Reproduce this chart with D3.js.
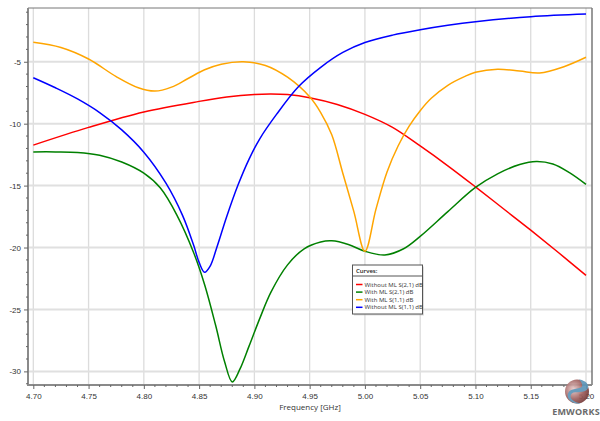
<!DOCTYPE html>
<html>
<head>
<meta charset="utf-8">
<script src="https://cdn.jsdelivr.net/npm/d3@7/dist/d3.min.js"></script>
<style>
  html, body { margin: 0; padding: 0; background: #fff; }
  svg { display: block; font-family: "Open Sans", "Noto Sans", sans-serif; }
</style>
</head>
<body>
<svg id="chart" width="600" height="421"></svg>
<script>
"use strict";

// frequency in GHz, magnitude in dB
const redFreq = [4.70, 4.75, 4.80, 4.85, 4.875, 4.90, 4.915, 4.93, 4.95, 4.975, 5.00, 5.025, 5.05, 5.075, 5.10, 5.125, 5.15, 5.175, 5.20];
const redDb = [-11.73, -10.3, -9.05, -8.2, -7.85, -7.64, -7.6, -7.65, -7.9, -8.45, -9.25, -10.3, -11.8, -13.4, -15.1, -16.85, -18.6, -20.4, -22.25];

const greenFreq = [4.70, 4.72, 4.74, 4.76, 4.78, 4.80, 4.815, 4.83, 4.845, 4.855, 4.865, 4.873, 4.880, 4.887, 4.895, 4.905, 4.915, 4.93, 4.945, 4.96, 4.97, 4.985, 5.00, 5.018, 5.035, 5.05, 5.075, 5.10, 5.12, 5.14, 5.155, 5.17, 5.185, 5.20];
const greenDb = [-12.28, -12.28, -12.32, -12.55, -13.1, -14.0, -15.2, -17.4, -20.4, -23.0, -26.3, -29.2, -30.85, -29.8, -28.0, -25.7, -23.6, -21.4, -20.1, -19.55, -19.46, -19.75, -20.3, -20.6, -20.1, -19.1, -17.1, -15.15, -14.05, -13.3, -13.05, -13.25, -13.95, -14.9];

const orangeFreq = [4.70, 4.725, 4.75, 4.775, 4.795, 4.81, 4.825, 4.84, 4.855, 4.87, 4.89, 4.91, 4.93, 4.95, 4.96, 4.97, 4.98, 4.99, 5.00, 5.01, 5.02, 5.03, 5.04, 5.05, 5.06, 5.075, 5.09, 5.10, 5.12, 5.14, 5.158, 5.18, 5.20];
const orangeDb = [-3.43, -3.85, -4.78, -6.2, -7.1, -7.37, -7.05, -6.35, -5.65, -5.2, -5.0, -5.3, -6.25, -7.83, -9.1, -10.9, -14.0, -17.1, -20.3, -16.9, -13.9, -11.8, -10.2, -8.95, -7.95, -6.9, -6.2, -5.85, -5.6, -5.75, -5.91, -5.4, -4.64];

const blueFreq = [4.70, 4.72, 4.74, 4.76, 4.78, 4.80, 4.82, 4.835, 4.845, 4.85, 4.855, 4.86, 4.866, 4.875, 4.885, 4.895, 4.905, 4.92, 4.94, 4.96, 4.98, 5.00, 5.025, 5.05, 5.075, 5.10, 5.15, 5.20];
const blueDb = [-6.29, -7.1, -8.0, -9.1, -10.5, -12.3, -14.8, -17.4, -19.8, -21.2, -22.0, -21.5, -20.0, -17.5, -15.0, -12.9, -11.2, -9.25, -7.0, -5.45, -4.25, -3.45, -2.85, -2.42, -2.06, -1.77, -1.36, -1.15];

const seriesNames = ["Without ML S(2,1) dB", "With ML S(2,1) dB", "With ML S(1,1) dB", "Without ML S(1,1) dB"];
const seriesColors = ["#ff0000", "#008000", "#ffa500", "#0000ff"];

const freqTicks = [4.70, 4.75, 4.80, 4.85, 4.90, 4.95, 5.00, 5.05, 5.10, 5.15, 5.20];
const dbTicks = [-5, -10, -15, -20, -25, -30];

const svg = d3.select("#chart");
const frame = { left: 28, right: 592, top: 8, bottom: 385 };

const x = d3.scaleLinear().domain([4.70, 5.20]).range([33.3, 586]);
const y = d3.scaleLinear().domain([-31.1, -0.66]).range([frame.bottom, frame.top]);

// grid
const grid = svg.append("g");
grid.selectAll("line.vg").data(freqTicks).join("line").attr("class", "vg")
  .attr("x1", d => x(d)).attr("x2", d => x(d)).attr("y1", frame.top).attr("y2", frame.bottom)
  .attr("stroke", "#dcdcdc").attr("stroke-width", 1.3);
grid.selectAll("line.hg").data(dbTicks).join("line").attr("class", "hg")
  .attr("x1", frame.left).attr("x2", frame.right).attr("y1", d => y(d)).attr("y2", d => y(d))
  .attr("stroke", "#e0e0e0").attr("stroke-width", 2);

// frame top / right
svg.append("line").attr("x1", frame.left).attr("x2", frame.right).attr("y1", frame.top).attr("y2", frame.top)
  .attr("stroke", "#777").attr("stroke-width", 1);
svg.append("line").attr("x1", frame.right).attr("x2", frame.right).attr("y1", frame.top).attr("y2", frame.bottom)
  .attr("stroke", "#777").attr("stroke-width", 1.5);

// axes
const fmt = d => d.toFixed(2);
const yAxis = svg.append("g").attr("transform", `translate(${frame.left},0)`)
  .call(d3.axisLeft(y).tickValues(dbTicks).tickSize(4).tickPadding(3).tickFormat(d => String(d)));
yAxis.append("g").selectAll("line").data(y.ticks(30).filter(d => d % 5 !== 0)).join("line")
  .attr("x1", -2).attr("x2", 0).attr("y1", d => y(d)).attr("y2", d => y(d)).attr("stroke", "#666");

const xAxis = svg.append("g").attr("transform", `translate(0,${frame.bottom})`)
  .call(d3.axisBottom(x).tickValues(freqTicks).tickSize(4).tickPadding(4).tickFormat(fmt));
xAxis.append("g").selectAll("line").data(x.ticks(50).filter(d => Math.round(d * 100) % 5 !== 0)).join("line")
  .attr("x1", d => x(d)).attr("x2", d => x(d)).attr("y1", 0).attr("y2", 2).attr("stroke", "#666");

[yAxis, xAxis].forEach(function styleAxis(g) {
  g.select(".domain").attr("stroke", "#8a8a8a").attr("stroke-width", 2);
  g.selectAll(".tick line").attr("stroke", "#666");
  g.selectAll(".tick text").attr("fill", "#333").attr("font-size", 8);
});
yAxis.select(".domain").attr("d", `M0,${frame.top}V${frame.bottom + 1}`);
xAxis.select(".domain").attr("d", `M${frame.left - 1},0H${frame.right}`);

svg.append("text").attr("x", (frame.left + frame.right) / 2).attr("y", 410).attr("text-anchor", "middle")
  .attr("font-size", 8).attr("fill", "#333").text("Frequency [GHz]");

// curves
const curves = [
  { f: redFreq, v: redDb },
  { f: greenFreq, v: greenDb },
  { f: orangeFreq, v: orangeDb },
  { f: blueFreq, v: blueDb },
];
const line = d3.line().x(d => x(d[0])).y(d => y(d[1])).curve(d3.curveCatmullRom.alpha(0.5));
const plot = svg.append("g");
curves.forEach(function drawCurve(c, i) {
  plot.append("path").datum(d3.zip(c.f, c.v)).attr("d", line)
    .attr("fill", "none").attr("stroke", seriesColors[i]).attr("stroke-width", 1.5);
});

// legend
const lg = svg.append("g").attr("transform", "translate(352.5,265)");
lg.append("rect").attr("x", 1.5).attr("y", 1.5).attr("width", 70).attr("height", 49).attr("fill", "#bbb").attr("opacity", 0.5);
lg.append("rect").attr("width", 70).attr("height", 49).attr("fill", "#fff").attr("stroke", "#555").attr("stroke-width", 1);
lg.append("text").attr("x", 3.5).attr("y", 8).attr("font-size", 6).attr("font-weight", 600).attr("fill", "#222").text("Curves:");
lg.append("line").attr("x1", 0).attr("x2", 70).attr("y1", 11).attr("y2", 11).attr("stroke", "#555");
const entries = lg.selectAll("g.entry").data(seriesNames).join("g").attr("class", "entry")
  .attr("transform", (d, i) => `translate(0,${19.5 + i * 7.6})`);
entries.append("line").attr("x1", 3.5).attr("x2", 10).attr("stroke", (d, i) => seriesColors[i]).attr("stroke-width", 1.5);
entries.append("text").attr("x", 12).attr("y", 2).attr("font-size", 6).attr("fill", "#333").text(d => d);

// EMWORKS logo
const defs = svg.append("defs");
const grad = defs.append("radialGradient").attr("id", "logoGrad").attr("cx", "35%").attr("cy", "40%").attr("r", "70%");
grad.append("stop").attr("offset", "0%").attr("stop-color", "#e8cccc");
grad.append("stop").attr("offset", "60%").attr("stop-color", "#a0605e");
grad.append("stop").attr("offset", "100%").attr("stop-color", "#6e3634");
const logo = svg.append("g").attr("transform", "translate(577,391.5)").attr("opacity", 0.92);
logo.append("circle").attr("r", 12).attr("fill", "url(#logoGrad)");
logo.append("path")
  .attr("d", "M2,-12 C10,-11 14,-5 9,-1 C5,2 -4,-1 -6,3 C-8,7 -3,11 4,12 C-4,13 -11,8 -9,2 C-7,-4 3,-2 5,-5 C6,-8 3,-11 2,-12 Z")
  .attr("fill", "#5d95b8");
svg.append("text").attr("x", 576).attr("y", 415).attr("text-anchor", "middle").attr("font-size", 9)
  .attr("font-weight", 700).attr("fill", "#6a6a6a").attr("letter-spacing", 0.2).text("EMWORKS");
</script>
</body>
</html>
